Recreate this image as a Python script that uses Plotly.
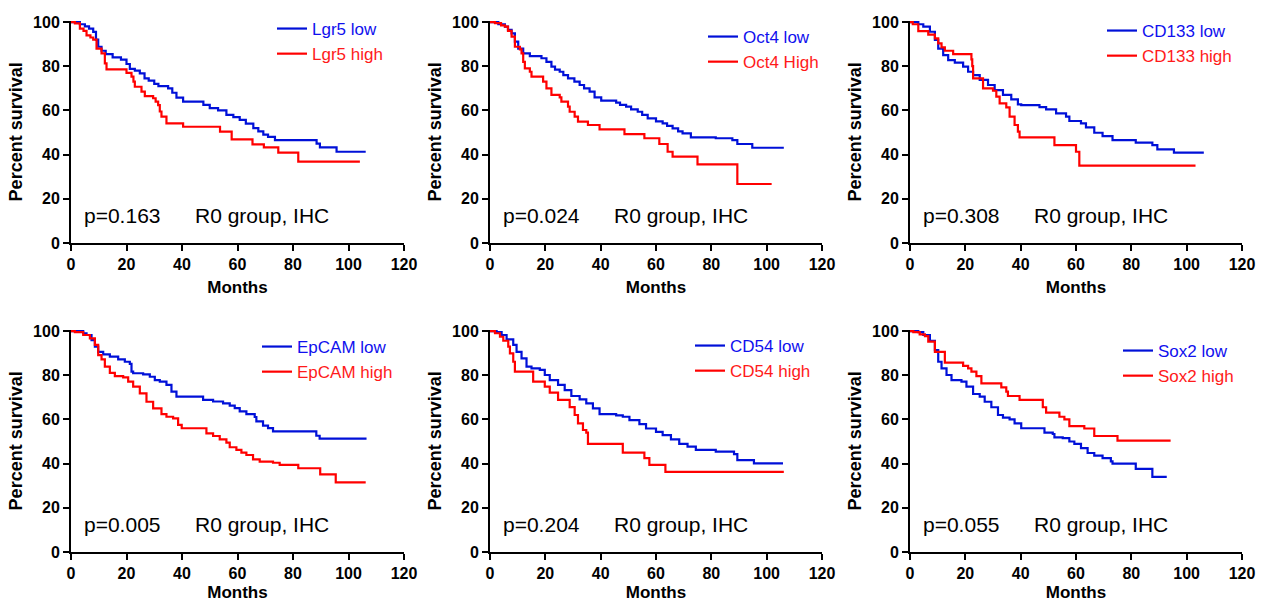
import plotly.graph_objects as go

# ---------------- data ----------------
markers = ["Lgr5", "Oct4", "CD133", "EpCAM", "CD54", "Sox2"]
low_labels = ["Lgr5 low", "Oct4 low", "CD133 low", "EpCAM low", "CD54 low", "Sox2 low"]
high_labels = ["Lgr5 high", "Oct4 High", "CD133 high", "EpCAM high", "CD54 high", "Sox2 high"]
p_values = ["p=0.163", "p=0.024", "p=0.308", "p=0.005", "p=0.204", "p=0.055"]
group_label = "R0 group, IHC"
x_ticks = [0, 20, 40, 60, 80, 100, 120]
y_ticks = [0, 20, 40, 60, 80, 100]

lgr5_low_t = [0, 3.2, 5, 6.5, 8, 9, 9.8, 11, 12.5, 15, 18, 20, 21.2, 23, 24.8, 26.5, 28, 30, 31.5, 35, 36.5, 38, 40.4, 47.7, 50, 53, 56, 58.5, 60.8, 63, 65.7, 67.5, 69.3, 71, 73.5, 88.5, 89.7, 95.7, 106.2]
lgr5_low_s = [100, 99, 98, 97, 95.5, 92, 88.8, 87, 85.5, 84, 83, 81, 78.8, 78, 76.8, 74.5, 73.5, 72, 71, 70, 68, 65.8, 64, 62.5, 61, 60, 58, 57, 55.7, 54, 52, 50.5, 49, 48, 46.6, 45, 43.3, 41.3, 41.3]
lgr5_high_t = [0, 1.4, 3.2, 4.5, 5.6, 7, 8, 9.2, 11, 12.2, 12.8, 20, 21.8, 22.5, 23, 25.4, 26.6, 29.6, 30.5, 31.4, 32, 32.6, 34.4, 40.4, 53.7, 57.9, 65.4, 69.5, 74.7, 81.9, 104.1]
lgr5_high_s = [100, 99.4, 97, 96, 94, 93, 92, 88, 85.8, 81.3, 78.6, 77, 75.3, 73, 70.7, 68.5, 66.5, 65.5, 64, 62.4, 59.5, 57.2, 54.1, 52.6, 50.4, 46.9, 44.6, 43.3, 40.9, 36.8, 36.8]

oct4_low_t = [0, 3, 5.4, 6.5, 7.8, 9, 10.2, 12, 14.4, 18.6, 20.4, 22.2, 23.5, 25.2, 26.5, 28.2, 30.5, 32.4, 34, 36, 37.8, 40.2, 45.6, 47, 49.2, 51, 53.4, 55, 57, 60, 62.4, 64, 66, 68, 69.6, 72.6, 81.6, 87.6, 89.4, 94.8, 106.2]
oct4_low_s = [100, 99, 97.9, 96.5, 94.9, 91.1, 88, 85.8, 84.6, 83.6, 82, 79.8, 78.5, 77.5, 76, 74.5, 73, 71.5, 70, 68.5, 65.9, 64.4, 63.5, 62.5, 61.7, 60.5, 59.4, 58, 56.4, 55, 54.1, 53, 51.9, 50.5, 49.6, 47.8, 47.4, 46.6, 44.8, 43.1, 43.1]
oct4_high_t = [0, 1.8, 4, 5.4, 6.5, 7.8, 9, 10.8, 11.4, 12, 12.6, 14.4, 15, 19.2, 20.4, 22.2, 25.2, 25.8, 28.2, 28.8, 30.6, 31.8, 35.4, 39.6, 48.6, 55.8, 61.2, 64.2, 66, 75, 89.4, 101.8]
oct4_high_s = [100, 99.5, 98.5, 97.9, 96, 93.4, 88.8, 87.6, 85.8, 82, 79, 77.5, 75.3, 73, 70, 67, 65.9, 64, 61.7, 59.4, 57.2, 54.9, 53.4, 51.4, 49.3, 47.4, 44.8, 41.3, 39.1, 35.6, 26.7, 26.7]

cd133_low_t = [0, 3, 4.8, 7.2, 9, 10.2, 12, 13.8, 16.2, 19.2, 21, 22.8, 25.2, 28.2, 30.6, 33.6, 36.6, 39, 40.2, 46.8, 49.2, 52.8, 56.4, 57.6, 61.8, 63.6, 66.6, 69.6, 73.2, 81.6, 87.6, 89.4, 95.4, 106.2]
cd133_low_s = [100, 99, 97.9, 95.6, 91.9, 88, 85, 82.8, 81.6, 79.8, 77.5, 76, 73.8, 71.5, 69.2, 67, 65, 62.7, 62.4, 61.5, 60.5, 58.7, 57.2, 55.2, 54.1, 52.3, 49.9, 48.4, 46.6, 45.4, 44.3, 42.4, 40.9, 40.9]
cd133_high_t = [0, 1, 3, 6.6, 9, 10.2, 11.4, 12.6, 15.6, 22.2, 22.5, 22.8, 26.4, 30, 31.2, 32.4, 34.8, 36, 37.8, 39, 39.6, 52.2, 60, 61.2, 103.2]
cd133_high_s = [100, 99, 95.9, 94.3, 92.6, 90.3, 88.5, 87, 85.5, 83.1, 80, 74.5, 70, 68.9, 66.2, 63.2, 61.4, 57.2, 53.4, 50.4, 47.8, 44.3, 41.3, 35, 35]

epcam_low_t = [0, 4.4, 5.6, 7.4, 8.6, 9.8, 11.6, 14, 17, 19.4, 21.2, 21.8, 22.4, 26, 28.4, 30.2, 32, 34.4, 36.2, 38, 47.6, 51.2, 54.8, 57.2, 59, 60.8, 63.2, 66.2, 66.8, 69.2, 71, 72.8, 88.4, 89.6, 106.5]
epcam_low_s = [100, 99, 98.2, 95.9, 92.9, 90.6, 89.4, 88.4, 87.2, 86.1, 85.1, 81.6, 80.9, 80.4, 79.3, 77.8, 77.1, 75.6, 72.6, 70.3, 68.8, 68.1, 67.3, 66.2, 65.1, 63.6, 62.4, 61.1, 59.1, 57.2, 56.1, 54.6, 52.6, 51.3, 51.3]
epcam_high_t = [0, 1.4, 4.4, 6.8, 8.6, 9.8, 11, 12.2, 14, 15.8, 18.8, 20.6, 22.4, 24.8, 27.2, 29.6, 32.6, 34.4, 36.8, 38.6, 39.9, 48.8, 51.2, 53.6, 56, 57.2, 59.6, 61.4, 63.2, 65.6, 68, 72.8, 75.2, 81.9, 89.8, 95.4, 106.2]
epcam_high_s = [100, 99.5, 98.2, 96.7, 93.7, 89.1, 87.2, 83.9, 81.1, 79.6, 79, 77.1, 74.8, 71.8, 68, 65, 62.4, 61.2, 60.5, 57.5, 56, 53.7, 52.5, 51, 49.5, 47.4, 46.2, 45, 43.9, 41.9, 40.9, 40.4, 39.4, 37.9, 35.1, 31.5, 31.5]

cd54_low_t = [0, 2.4, 4.2, 6, 8.4, 9.6, 11.4, 13.2, 15, 18, 19.8, 21.6, 24.6, 27, 29.4, 32.4, 34.8, 37.2, 39.6, 45.6, 48, 50.4, 54, 56.4, 60, 62.4, 65.4, 68.4, 71.4, 74.4, 81.6, 88.2, 89.4, 95.4, 105.9]
cd54_low_s = [100, 99.5, 98.2, 96.2, 93.7, 90.6, 87.6, 83.9, 83.1, 82.4, 80.1, 77.8, 75.6, 73.3, 70.6, 69.1, 67.3, 65, 62.4, 61.8, 61.2, 59.7, 57.9, 55.9, 54.4, 52.9, 51, 48.9, 47.7, 46.2, 45.4, 44.3, 41.6, 40.1, 40.1]
cd54_high_t = [0, 1.8, 3.6, 4.8, 6.6, 7.2, 8.4, 9, 15.6, 19.8, 21.6, 24.6, 28.8, 30.6, 31.8, 33.6, 34.8, 35.4, 48, 55.8, 57.6, 63.4, 106.2]
cd54_high_s = [100, 99, 97.4, 95.6, 92.9, 89.9, 86.1, 81.6, 77.1, 74.8, 72.1, 68.8, 65.6, 62, 58.2, 55.2, 54, 48.9, 45, 42.5, 39.4, 36.3, 36.3]

sox2_low_t = [0, 3, 4.8, 7.2, 9, 10.2, 11.4, 13.2, 15, 18.6, 20.4, 22.8, 25.2, 27, 29.4, 31.8, 33.6, 36, 37.8, 40.2, 48.6, 51.6, 52.2, 55.2, 57.6, 59.4, 61.8, 64.2, 66.6, 69.6, 72.6, 73.2, 81.6, 87.6, 92.8]
sox2_low_s = [100, 99.5, 98.2, 95.6, 91.4, 86.1, 83.1, 80.1, 77.8, 77.1, 74.8, 71.5, 70.3, 68, 65.5, 62, 60.8, 60, 58.2, 56, 54, 53.4, 51.9, 51.5, 50, 48.9, 47, 44.8, 43.6, 42.5, 41, 40, 37.6, 34, 34]
sox2_high_t = [0, 1.2, 3.5, 5.4, 6.6, 9, 12.6, 19.2, 21, 22.2, 24, 25.8, 33, 34.8, 35.4, 39.6, 48, 49.2, 54, 55.8, 57.6, 63, 66.6, 75, 94.2]
sox2_high_s = [100, 99.5, 98.5, 97.7, 95.2, 90.6, 85.7, 84.2, 83.1, 81.6, 79.6, 76.3, 74.5, 72.6, 70.6, 68.8, 65.5, 63.1, 61.2, 60, 57, 55.9, 52.5, 50.4, 50.4]

low_curves = [(lgr5_low_t, lgr5_low_s), (oct4_low_t, oct4_low_s), (cd133_low_t, cd133_low_s),
              (epcam_low_t, epcam_low_s), (cd54_low_t, cd54_low_s), (sox2_low_t, sox2_low_s)]
high_curves = [(lgr5_high_t, lgr5_high_s), (oct4_high_t, oct4_high_s), (cd133_high_t, cd133_high_s),
               (epcam_high_t, epcam_high_s), (cd54_high_t, cd54_high_s), (sox2_high_t, sox2_high_s)]

# ---------------- styling / layout ----------------
W, H = 1261, 602
FONT = "Liberation Sans, Arial, Helvetica, sans-serif"
BLUE_LINE = "#0010d8"
RED_LINE = "#ff0000"
BLUE_TXT = "#1010ee"
RED_TXT = "#ff1a1a"

col_px = [(71, 404), (490, 822), (910, 1242)]
row_px = [(20.7, 243), (329.7, 552)]          # (top, bottom) pixel rows
legend_px = [(272, 11), (703, 19), (1102, 13), (257, 329), (690, 328), (1118, 333)]

fig = go.Figure()
layout = dict(
    width=W, height=H,
    margin=dict(l=0, r=0, t=0, b=0),
    paper_bgcolor="white", plot_bgcolor="white",
    showlegend=True,
    annotations=[],
)

for i in range(6):
    r, c = divmod(i, 3)
    idx = i + 1
    xa = "x" if idx == 1 else f"x{idx}"
    ya = "y" if idx == 1 else f"y{idx}"
    xkey = "xaxis" if idx == 1 else f"xaxis{idx}"
    ykey = "yaxis" if idx == 1 else f"yaxis{idx}"
    lg = "legend" if idx == 1 else f"legend{idx}"

    x0, x1 = col_px[c]
    top, bot = row_px[r]
    layout[xkey] = dict(
        domain=[x0 / W, x1 / W], anchor=ya, range=[0, 120],
        tickmode="array", tickvals=x_ticks, ticktext=[str(v) for v in x_ticks],
        ticks="outside", ticklen=6, tickwidth=2, tickcolor="black",
        showline=True, linewidth=2, linecolor="black",
        showgrid=False, zeroline=False, automargin=False,
        tickfont=dict(family=FONT, size=16, color="black", weight="bold"),
        title=dict(text="Months", standoff=9,
                   font=dict(family=FONT, size=17, color="black", weight="bold")),
    )
    layout[ykey] = dict(
        domain=[1 - bot / H, 1 - top / H], anchor=xa, range=[0, 100.6],
        tickmode="array", tickvals=y_ticks, ticktext=[str(v) for v in y_ticks],
        ticks="outside", ticklen=6, tickwidth=2, tickcolor="black",
        showline=True, linewidth=2, linecolor="black",
        showgrid=False, zeroline=False, automargin=False,
        tickfont=dict(family=FONT, size=16, color="black", weight="bold"),
        title=dict(text="Percent survival", standoff=6,
                   font=dict(family=FONT, size=18, color="black", weight="bold")),
    )
    lx, ly = legend_px[i]
    layout[lg] = dict(
        x=lx / W, y=1 - ly / H, xanchor="left", yanchor="top",
        bgcolor="rgba(0,0,0,0)", borderwidth=0, itemwidth=30,
        font=dict(family=FONT, size=17), tracegroupgap=0,
    )

    lt, ls = low_curves[i]
    ht, hs = high_curves[i]
    fig.add_trace(go.Scatter(
        x=lt, y=ls, mode="lines", line=dict(color=BLUE_LINE, width=2.2, shape="hv"),
        name=f"<span style='color:{BLUE_TXT}'>{low_labels[i]}</span>",
        xaxis=xa, yaxis=ya, legend=lg, hoverinfo="x+y"))
    fig.add_trace(go.Scatter(
        x=ht, y=hs, mode="lines", line=dict(color=RED_LINE, width=2.2, shape="hv"),
        name=f"<span style='color:{RED_TXT}'>{high_labels[i]}</span>",
        xaxis=xa, yaxis=ya, legend=lg, hoverinfo="x+y"))

    layout["annotations"].append(dict(
        text=p_values[i], x=4.0, y=12.5, xref=xa, yref=ya,
        xanchor="left", yanchor="middle", showarrow=False,
        font=dict(family=FONT, size=21, color="black")))
    layout["annotations"].append(dict(
        text=group_label, x=44.0, y=12.5, xref=xa, yref=ya,
        xanchor="left", yanchor="middle", showarrow=False,
        font=dict(family=FONT, size=21, color="black")))

fig.update_layout(**layout)
fig.write_html("out.html")
